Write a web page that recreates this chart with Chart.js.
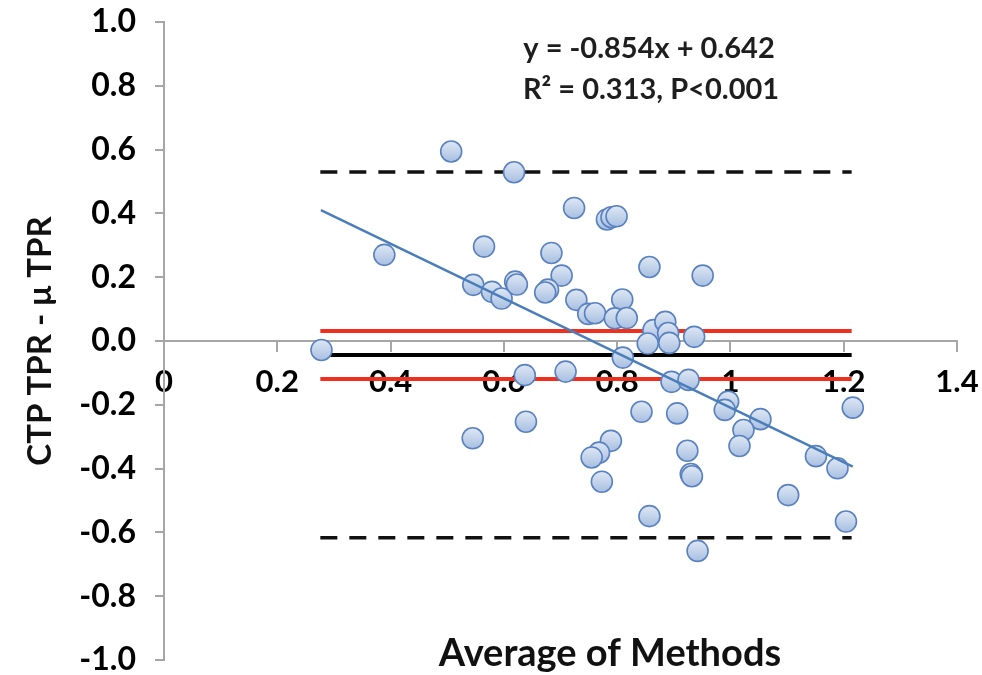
<!DOCTYPE html>
<html>
<head>
<meta charset="utf-8">
<script src="https://cdn.jsdelivr.net/npm/chart.js@4.4.1/dist/chart.umd.min.js"></script>
<style>
  html, body { margin: 0; padding: 0; background: #fff; }
  #wrap { width: 982px; height: 675px; }
</style>
</head>
<body>
<div id="wrap"><canvas id="baChart" width="982" height="675"></canvas></div>
<script>
// --- data (Bland-Altman: CTP TPR vs μ TPR) ---
const avgMethods = [
  0.278, 0.389, 0.507, 0.618, 0.724, 0.782, 0.790, 0.799, 0.565, 0.684,
  0.546, 0.579, 0.596, 0.620, 0.623, 0.702, 0.678, 0.673, 0.728, 0.749,
  0.761, 0.809, 0.796, 0.817, 0.857, 0.951, 0.864, 0.885, 0.890, 0.854,
  0.892, 0.936, 0.810, 0.637, 0.709, 0.896, 0.926, 0.996, 0.990, 0.843,
  0.906, 1.053, 1.023, 1.016, 0.639, 0.545, 0.789, 0.768, 0.755, 0.924,
  0.930, 0.932, 0.773, 1.151, 1.189, 1.216, 1.102, 0.857, 1.204, 0.942
];
const diffTPR = [
  -0.028, 0.270, 0.594, 0.529, 0.417, 0.381, 0.388, 0.391, 0.296, 0.276,
  0.176, 0.154, 0.133, 0.186, 0.177, 0.205, 0.161, 0.152, 0.129, 0.085,
  0.087, 0.130, 0.071, 0.072, 0.232, 0.205, 0.034, 0.060, 0.025, -0.008,
  -0.006, 0.013, -0.052, -0.107, -0.096, -0.128, -0.122, -0.190, -0.216, -0.222,
  -0.227, -0.245, -0.279, -0.329, -0.253, -0.305, -0.313, -0.350, -0.365, -0.344,
  -0.417, -0.424, -0.441, -0.361, -0.399, -0.209, -0.483, -0.549, -0.566, -0.658
];

// horizontal reference lines: limits of agreement, mean bias, CI of mean
const limitX = [0.276, 1.214];
const loaLevels = [0.53, -0.617];
const meanLevel = [-0.044];
const ciLevels = [0.031, -0.119];

// regression line end points
const regX = [0.277, 1.216];
const regY = [0.41, -0.394];

const xTicks = [0, 0.2, 0.4, 0.6, 0.8, 1, 1.2, 1.4];
const xTickLabels = ['0', '0.2', '0.4', '0.6', '0.8', '1', '1.2', '1.4'];
const yTicks = [-1, -0.8, -0.6, -0.4, -0.2, 0, 0.2, 0.4, 0.6, 0.8, 1];
const yTickLabels = ['-1.0', '-0.8', '-0.6', '-0.4', '-0.2', '0.0', '0.2', '0.4', '0.6', '0.8', '1.0'];

const eqLines = ['y = -0.854x + 0.642', 'R² = 0.313, P<0.001'];
const xTitle = 'Average of Methods';
const yTitle = 'CTP TPR - μ TPR';

const FONT = 'Lato, "Open Sans", sans-serif';
const axisGray = '#a6a6a6';

function hLine(level, color, width, dash, order) {
  return {
    data: limitX.map(x => ({ x: x, y: level })),
    showLine: true,
    borderColor: color,
    borderWidth: width,
    borderDash: dash,
    pointRadius: 0,
    fill: false,
    order: order
  };
}

// light blue bubble with a soft vertical gradient
function pointFill(ctx) {
  const chart = ctx.chart;
  const raw = ctx.raw;
  const ys = chart.scales && chart.scales.y;
  if (!raw || !ys) return '#bccde8';
  const py = ys.getPixelForValue(raw.y);
  if (!isFinite(py)) return '#bccde8';
  const g = chart.ctx.createLinearGradient(0, py - 10, 0, py + 10);
  g.addColorStop(0, '#dde7f4');
  g.addColorStop(1, '#a9c0e1');
  return g;
}

// equation and bottom title
const textPlugin = {
  id: 'textPlugin',
  afterDraw(chart) {
    const { ctx, chartArea } = chart;
    ctx.save();
    ctx.textAlign = 'center';
    ctx.textBaseline = 'middle';
    ctx.fillStyle = '#1e1e1e';
    ctx.font = 'bold 29px ' + FONT;
    ctx.fillText(eqLines[0], chartArea.left + 485, chartArea.top + 27);
    ctx.fillText(eqLines[1], chartArea.left + 487, chartArea.top + 68);
    ctx.fillStyle = '#111';
    ctx.font = 'bold 38px ' + FONT;
    ctx.fillText(xTitle, chartArea.left + 446, chartArea.bottom - 6);
    ctx.restore();
  }
};

const datasets = [
  {
    data: regX.map((x, i) => ({ x: x, y: regY[i] })),
    showLine: true,
    borderColor: '#4a7ebb',
    borderWidth: 2.5,
    pointRadius: 0,
    order: 0
  },
  {
    data: avgMethods.map((x, i) => ({ x: x, y: diffTPR[i] })),
    backgroundColor: pointFill,
    borderColor: '#5a82c0',
    borderWidth: 1.6,
    pointRadius: 10.5,
    order: 1
  }
];
loaLevels.forEach(l => datasets.push(hLine(l, '#111', 3.5, [17, 12], 2)));
ciLevels.forEach(l => datasets.push(hLine(l, '#f0301e', 4, [], 2)));
meanLevel.forEach(l => datasets.push(hLine(l, '#000', 4, [], 2)));

new Chart(document.getElementById('baChart'), {
  type: 'scatter',
  data: { datasets: datasets },
  options: {
    responsive: false,
    animation: false,
    devicePixelRatio: 1,
    layout: { padding: { left: 0, right: 25, top: 22, bottom: 15 } },
    plugins: { legend: { display: false }, tooltip: { enabled: false } },
    scales: {
      x: {
        type: 'linear',
        min: 0,
        max: 1.4,
        position: { y: 0 },
        afterBuildTicks: s => { s.ticks = xTicks.map(v => ({ value: v })); },
        afterFit: s => { s.height = 0; s.paddingLeft = 0; s.paddingRight = 0; },
        ticks: {
          color: '#000',
          font: { family: FONT, size: 31, weight: 'bold' },
          padding: 12,
          maxRotation: 0,
          autoSkip: false,
          callback: (v, i) => xTickLabels[i]
        },
        grid: { drawOnChartArea: false, drawTicks: true, tickLength: 10, color: axisGray, lineWidth: 2 },
        border: { color: axisGray, width: 2 }
      },
      y: {
        type: 'linear',
        min: -1,
        max: 1,
        afterBuildTicks: s => { s.ticks = yTicks.map(v => ({ value: v })); },
        afterFit: s => { s.width = 164; s.paddingTop = 0; s.paddingBottom = 0; },
        ticks: {
          color: '#000',
          font: { family: FONT, size: 32, weight: 'bold' },
          padding: 19,
          autoSkip: false,
          callback: (v, i) => yTickLabels[i]
        },
        grid: { drawOnChartArea: false, drawTicks: true, tickLength: 9, color: axisGray, lineWidth: 2 },
        border: { color: axisGray, width: 2 },
        title: {
          display: true,
          text: yTitle,
          color: '#111',
          font: { family: FONT, size: 33, weight: 'bold' },
          padding: { top: 21, bottom: 0 }
        }
      }
    }
  },
  plugins: [textPlugin]
});
</script>
</body>
</html>
